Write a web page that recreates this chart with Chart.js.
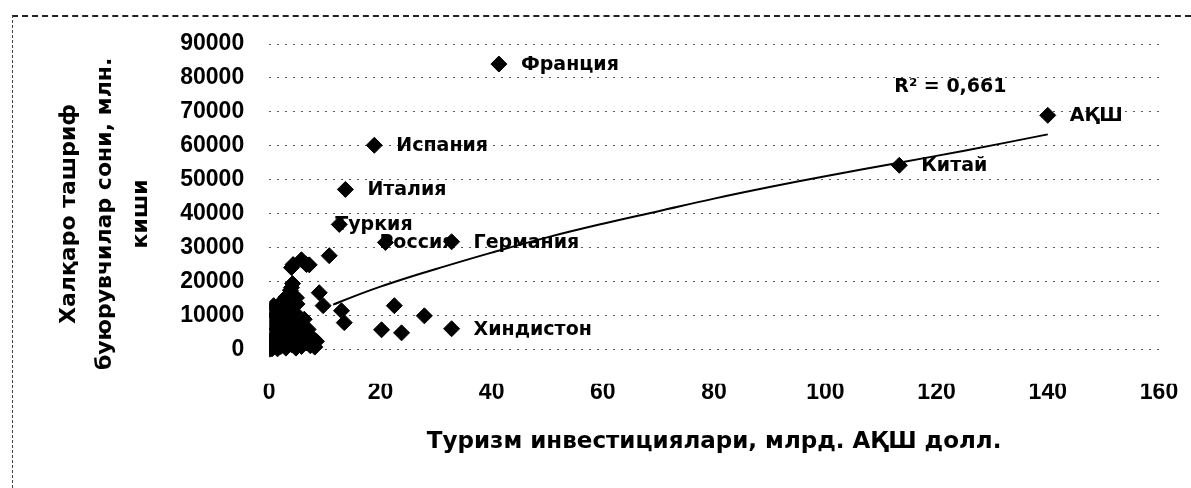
<!DOCTYPE html>
<html>
<head>
<meta charset="utf-8">
<script src="https://cdn.jsdelivr.net/npm/chart.js@4.4.1/dist/chart.umd.min.js"></script>
<style>
    html, body { margin: 0; padding: 0; background: #fff; }
    #wrap { position: relative; width: 1191px; height: 488px; overflow: hidden; }
    #frame {
        position: absolute; left: 12px; top: 15px; right: -10px; bottom: -10px;
        border-top: 2px dashed #222; border-left: 1px dashed #444;
    }
</style>
</head>
<body>
<div id="wrap">
    <div id="frame"></div>
    <canvas id="chart" width="1191" height="488"></canvas>
</div>
<script>
// Labelled countries
const countryNames = ['Франция', 'Испания', 'Италия', 'Туркия', 'Россия', 'Германия', 'Хиндистон', 'Китай', 'АҚШ'];
const countryX = [41.3, 18.9, 13.7, 12.6, 20.9, 32.8, 32.8, 113.3, 140.0];
const countryY = [84100, 60200, 47200, 36900, 31600, 31800, 6200, 54300, 69000];

// Other countries (unlabelled)
const otherX = [10.8, 4.3, 6.7, 4.0, 5.8, 7.2, 4.0, 4.9, 9.0, 9.7, 13.0, 13.5, 22.5, 27.9, 20.2, 23.8,
    0.1, 0.2, 0.3, 0.5, 0.6, 0.8, 1.0, 1.1, 1.3, 1.5, 1.6, 1.8, 2.0, 2.1, 2.3, 2.5, 2.7, 3.0, 3.1, 3.3,
    3.5, 3.6, 3.8, 4.0, 4.2, 4.4, 4.6, 4.8, 5.0, 5.3, 5.5, 5.8, 6.0, 6.3, 6.6, 7.0, 7.4, 7.8, 8.2, 8.5,
    0.4, 0.9, 1.4, 2.8, 0.7, 0.3, 0.8, 3.0, 3.8, 4.2, 2.5, 5.0];
const otherY = [27700, 25100, 25100, 24200, 26500, 25000, 18300, 15300, 16800, 13000, 11500, 8000, 13000, 10000, 5900, 5000,
    200, 500, 1200, 300, 2500, 800, 4000, 1500, 6000, 300, 2800, 9000, 5000, 1000, 11000, 3500, 7000, 500, 2000, 9500,
    4500, 12500, 6500, 1500, 3000, 8000, 11000, 500, 5500, 2500, 7500, 1000, 4000, 9000, 2000, 6000, 1200, 3500, 800, 2500,
    3500, 7000, 10500, 13000, 9500, 11500, 13000, 15500, 17500, 19500, 14500, 13500];

// Trend line (R² = 0,661)
const trendX = [11.5, 15, 20, 25, 30, 40, 50, 60, 70, 80, 90, 100, 113, 125, 140];
const trendY = [13300, 15600, 18600, 21300, 23800, 28600, 33100, 37100, 40800, 44500, 47900, 51100, 55000, 58600, 63400];

// Axis ticks
const xTicks = [0, 20, 40, 60, 80, 100, 120, 140, 160];
const yTicks = [0, 10000, 20000, 30000, 40000, 50000, 60000, 70000, 80000, 90000];

const rSquared = 'R² = 0,661';
const xTitle = 'Туризм инвестициялари, млрд. АҚШ долл.';
const yTitle = ['Халқаро ташриф', 'буюрувчилар сони, млн.', 'киши'];

const toPoints = (xs, ys) => xs.map((x, i) => ({ x: x, y: ys[i] }));

// label offsets from the marker (px)
const labelShift = { 'Туркия': -4, 'Россия': -6 };

const pointLabels = {
    id: 'pointLabels',
    afterDatasetsDraw(chart) {
        const ctx = chart.ctx;
        const meta = chart.getDatasetMeta(0);
        ctx.save();
        ctx.font = 'bold 19px "DejaVu Sans"';
        ctx.fillStyle = '#000';
        ctx.textBaseline = 'middle';
        meta.data.forEach((pt, i) => {
            const name = countryNames[i];
            const dx = labelShift[name] !== undefined ? labelShift[name] : 22;
            ctx.fillText(name, pt.x + dx, pt.y + 1);
        });
        // R² text
        const xs = chart.scales.x, ys = chart.scales.y;
        ctx.fillText(rSquared, xs.getPixelForValue(112.4), ys.getPixelForValue(77300));
        ctx.restore();
    }
};

new Chart(document.getElementById('chart'), {
    type: 'scatter',
    data: {
        datasets: [
            {
                data: toPoints(countryX, countryY),
                pointStyle: 'rectRot',
                pointRadius: 8,
                backgroundColor: '#000',
                borderColor: '#000'
            },
            {
                data: toPoints(otherX, otherY),
                pointStyle: 'rectRot',
                pointRadius: 8,
                backgroundColor: '#000',
                borderColor: '#000'
            },
            {
                data: toPoints(trendX, trendY),
                showLine: true,
                pointRadius: 0,
                borderColor: '#000',
                borderWidth: 2,
                tension: 0.4
            }
        ]
    },
    options: {
        responsive: false,
        animation: false,
        layout: {
            padding: { left: 51, right: 32, top: 44, bottom: 32 }
        },
        plugins: {
            legend: { display: false },
            tooltip: { enabled: false }
        },
        scales: {
            x: {
                type: 'linear',
                min: 0,
                max: 160,
                afterBuildTicks: (scale) => { scale.ticks = xTicks.map(v => ({ value: v })); },
                grid: { display: false },
                border: { display: false },
                ticks: {
                    color: '#000',
                    padding: -13,
                    font: { family: '"Liberation Sans"', weight: 'bold', size: 23 }
                },
                title: {
                    display: true,
                    text: xTitle,
                    color: '#000',
                    padding: { top: 35, bottom: 0 },
                    font: { family: '"DejaVu Sans"', weight: 'bold', size: 23 }
                }
            },
            y: {
                type: 'linear',
                min: -10000,
                max: 90000,
                afterBuildTicks: (scale) => { scale.ticks = [-10000].concat(yTicks).map(v => ({ value: v })); },
                grid: {
                    drawTicks: false,
                    color: (c) => (c.tick && c.tick.value < 0) ? 'rgba(0,0,0,0)' : '#555',
                    lineWidth: 1
                },
                border: { display: false, dash: [2, 6] },
                ticks: {
                    color: '#000',
                    padding: 25,
                    callback: (v) => v < 0 ? '' : v,
                    font: { family: '"Liberation Sans"', weight: 'bold', size: 23 }
                },
                title: {
                    display: true,
                    text: yTitle,
                    color: '#000',
                    padding: { top: 0, bottom: -4 },
                    font: { family: '"DejaVu Sans"', weight: 'bold', size: 22, lineHeight: 1.64 }
                }
            }
        }
    },
    plugins: [pointLabels]
});
</script>
</body>
</html>
